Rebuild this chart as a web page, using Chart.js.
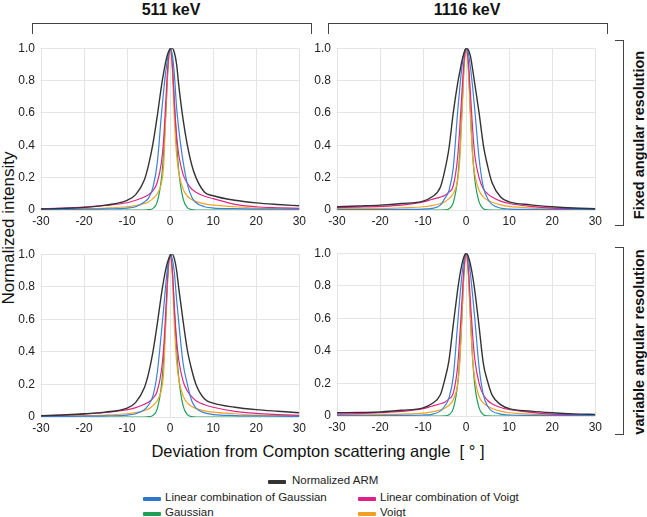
<!DOCTYPE html>
<html>
<head>
<meta charset="utf-8">
<script src="https://cdn.jsdelivr.net/npm/chart.js@4"></script>
<style>
  body { margin: 0; background: #fff; font-family: "Liberation Sans", Arial, sans-serif; }
  #wrap { position: relative; width: 647px; height: 517px; overflow: hidden; }
  canvas { position: absolute; }
  .t { position: absolute; white-space: nowrap; color: #111; }
  .ttl { font-weight: bold; font-size: 16px; transform: translateX(-50%); }
  .rot { font-weight: bold; font-size: 14.5px; transform: translate(-50%, -50%) rotate(-90deg); }
  .leg { font-size: 11.5px; color: #222; }
  .sw { position: absolute; width: 18px; height: 4px; border-radius: 1px; }
  .br { position: absolute; border-color: #444; border-style: solid; border-width: 0; }
</style>
</head>
<body>
<div id="wrap">
  <div class="t ttl" style="left:171px; top:1px;">511 keV</div>
  <div class="t ttl" style="left:467px; top:1px;">1116 keV</div>
  <div class="br" style="left:32px; top:23px; width:278px; height:10px; border-width:1.5px 1.5px 0 1.5px;"></div>
  <div class="br" style="left:328px; top:23px; width:278px; height:10px; border-width:1.5px 1.5px 0 1.5px;"></div>
  <div class="br" style="left:615px; top:40px; width:8px; height:184px; border-width:1.5px 1.5px 1.5px 0;"></div>
  <div class="br" style="left:615px; top:247px; width:8px; height:186px; border-width:1.5px 1.5px 1.5px 0;"></div>
  <div class="t rot" style="left:639px; top:135px;">Fixed angular resolution</div>
  <div class="t rot" style="left:639px; top:342px;">variable angular resolution</div>
  <div class="t" style="left:9px; top:228px; font-size:17px; transform: translate(-50%, -50%) rotate(-90deg);">Normalized intensity</div>
  <div class="t" style="left:318px; top:442px; font-size:16.5px; transform: translateX(-50%);">Deviation from Compton scattering angle &nbsp;[ ° ]</div>

  <canvas id="tl" width="310" height="195" style="left:0px; top:35px;"></canvas>
  <canvas id="tr" width="310" height="195" style="left:296px; top:35px;"></canvas>
  <canvas id="bl" width="310" height="196" style="left:0px; top:241px;"></canvas>
  <canvas id="br" width="310" height="196" style="left:296px; top:240px;"></canvas>

  <div class="sw" style="left:268px; top:480px; background:#333;"></div>
  <div class="t leg" style="left:292px; top:474px;">Normalized ARM</div>
  <div class="sw" style="left:143px; top:497px; background:#2f78cf;"></div>
  <div class="t leg" style="left:165px; top:491px;">Linear combination of Gaussian</div>
  <div class="sw" style="left:358px; top:497px; background:#e0208a;"></div>
  <div class="t leg" style="left:380px; top:491px;">Linear combination of Voigt</div>
  <div class="sw" style="left:143px; top:512px; background:#1f9e55;"></div>
  <div class="t leg" style="left:165px; top:506px;">Gaussian</div>
  <div class="sw" style="left:358px; top:512px; background:#f0a020;"></div>
  <div class="t leg" style="left:380px; top:506px;">Voigt</div>
</div>
<script>
// deviation angle (deg) sampled in every panel
const xs = [-30,-25,-20,-15,-10,-8,-6,-5,-4,-3,-2,-1.5,-1,-0.5,0,0.5,1,1.5,2,3,4,5,6,8,10,15,20,25,30];
const xTicks = [-30,-20,-10,0,10,20,30];
const yTicks = [0,0.2,0.4,0.6,0.8,1.0];

// 511 keV, fixed angular resolution
const tlArm   = [0.006,0.01,0.016,0.03,0.06,0.095,0.185,0.28,0.41,0.58,0.77,0.85,0.92,0.97,0.995,1.0,0.97,0.9,0.77,0.56,0.4,0.28,0.2,0.11,0.088,0.06,0.044,0.034,0.026];
const tlLinG  = [0.003,0.004,0.005,0.007,0.012,0.02,0.05,0.075,0.14,0.29,0.6,0.74,0.86,0.95,1.0,0.96,0.83,0.63,0.5,0.3,0.16,0.08,0.045,0.02,0.012,0.008,0.006,0.005,0.004];
const tlLinV  = [0.008,0.012,0.018,0.028,0.045,0.06,0.08,0.095,0.12,0.17,0.3,0.44,0.68,0.9,1.0,0.9,0.65,0.46,0.34,0.22,0.165,0.13,0.11,0.085,0.07,0.035,0.02,0.014,0.01];
const tlGauss = [0,0,0,0,0,0,0,0.002,0.01,0.05,0.2,0.36,0.6,0.88,1.0,0.9,0.65,0.42,0.24,0.07,0.015,0.003,0,0,0,0,0,0,0];
const tlVoigt = [0.004,0.005,0.008,0.012,0.02,0.027,0.04,0.05,0.07,0.1,0.17,0.28,0.6,0.88,1.0,0.87,0.55,0.34,0.23,0.13,0.085,0.065,0.052,0.038,0.03,0.02,0.012,0.01,0.008];

// 1116 keV, fixed angular resolution
const trArm   = [0.02,0.025,0.03,0.04,0.055,0.08,0.14,0.24,0.38,0.6,0.78,0.85,0.92,0.97,1.0,0.99,0.95,0.87,0.78,0.6,0.4,0.27,0.17,0.08,0.05,0.032,0.02,0.012,0.008];
const trLinG  = [0.002,0.002,0.003,0.004,0.006,0.01,0.03,0.07,0.12,0.26,0.6,0.75,0.88,0.97,1.0,0.97,0.88,0.76,0.62,0.32,0.14,0.07,0.035,0.012,0.006,0.004,0.003,0.003,0.002];
const trLinV  = [0.015,0.018,0.022,0.03,0.05,0.065,0.08,0.09,0.11,0.15,0.32,0.5,0.72,0.92,1.0,0.92,0.72,0.5,0.34,0.2,0.13,0.1,0.08,0.055,0.04,0.022,0.012,0.008,0.005];
const trGauss = [0,0,0,0,0,0,0,0.001,0.008,0.045,0.19,0.35,0.6,0.88,1.0,0.88,0.6,0.35,0.19,0.05,0.008,0.001,0,0,0,0,0,0,0];
const trVoigt = [0.008,0.009,0.01,0.014,0.02,0.027,0.04,0.05,0.07,0.1,0.18,0.3,0.58,0.88,1.0,0.88,0.58,0.33,0.22,0.12,0.08,0.06,0.048,0.032,0.022,0.013,0.01,0.006,0.004];

// 511 keV, variable angular resolution
const blArm   = [0.008,0.012,0.02,0.03,0.055,0.09,0.18,0.27,0.4,0.57,0.76,0.84,0.91,0.96,0.99,1.0,0.97,0.9,0.79,0.59,0.41,0.29,0.2,0.11,0.085,0.06,0.045,0.035,0.026];
const blLinG  = [0.003,0.004,0.005,0.007,0.012,0.02,0.045,0.075,0.13,0.27,0.53,0.67,0.82,0.94,1.0,0.97,0.88,0.72,0.58,0.33,0.2,0.1,0.055,0.025,0.015,0.009,0.007,0.005,0.004];
const blLinV  = [0.008,0.012,0.018,0.028,0.045,0.058,0.078,0.092,0.115,0.16,0.29,0.43,0.66,0.9,1.0,0.9,0.66,0.47,0.35,0.22,0.16,0.125,0.1,0.075,0.06,0.035,0.022,0.015,0.01];
const blGauss = [0,0,0,0,0,0,0,0.002,0.01,0.05,0.2,0.36,0.6,0.88,1.0,0.9,0.65,0.42,0.24,0.07,0.015,0.003,0,0,0,0,0,0,0];
const blVoigt = [0.004,0.005,0.008,0.012,0.02,0.027,0.04,0.05,0.07,0.1,0.17,0.28,0.6,0.88,1.0,0.87,0.55,0.34,0.23,0.13,0.085,0.065,0.052,0.038,0.03,0.02,0.012,0.01,0.008];

// 1116 keV, variable angular resolution
const brArm   = [0.02,0.022,0.025,0.035,0.05,0.075,0.13,0.22,0.34,0.56,0.77,0.86,0.93,0.98,1.0,0.98,0.93,0.86,0.77,0.55,0.32,0.21,0.13,0.07,0.045,0.03,0.02,0.013,0.01];
const brLinG  = [0.002,0.002,0.003,0.004,0.006,0.01,0.03,0.06,0.11,0.24,0.56,0.72,0.86,0.96,1.0,0.97,0.87,0.74,0.6,0.3,0.13,0.06,0.03,0.012,0.006,0.004,0.003,0.003,0.002];
const brLinV  = [0.012,0.015,0.02,0.028,0.045,0.06,0.075,0.085,0.105,0.14,0.3,0.48,0.7,0.91,1.0,0.91,0.7,0.5,0.35,0.2,0.13,0.095,0.075,0.052,0.04,0.022,0.012,0.008,0.005];
const brGauss = [0,0,0,0,0,0,0,0.001,0.008,0.045,0.19,0.35,0.6,0.88,1.0,0.88,0.6,0.35,0.19,0.05,0.008,0.001,0,0,0,0,0,0,0];
const brVoigt = [0.006,0.007,0.009,0.012,0.018,0.025,0.038,0.048,0.066,0.1,0.19,0.32,0.6,0.89,1.0,0.88,0.6,0.35,0.23,0.12,0.08,0.06,0.046,0.03,0.02,0.012,0.008,0.006,0.004];

const colors = { arm: '#333333', linG: '#3a82d6', linV: '#e02585', gauss: '#1fa05a', voigt: '#f2a324' };
const gridColor = '#e4e4e4';

function series(label, ys, color, w) {
  return {
    label: label,
    data: xs.map((x, i) => ({ x: x, y: ys[i] })),
    borderColor: color,
    borderWidth: w,
    pointRadius: 0,
    fill: false,
    cubicInterpolationMode: 'monotone'
  };
}

function panel(id, arm, linG, linV, gauss, voigt) {
  new Chart(document.getElementById(id), {
    type: 'line',
    data: {
      datasets: [
        series('Normalized ARM', arm, colors.arm, 1.4),
        series('Linear combination of Gaussian', linG, colors.linG, 1.2),
        series('Linear combination of Voigt', linV, colors.linV, 1.2),
        series('Voigt', voigt, colors.voigt, 1.2),
        series('Gaussian', gauss, colors.gauss, 1.2)
      ]
    },
    options: {
      responsive: false,
      animation: false,
      layout: { padding: { top: 8, right: 8, left: 0, bottom: 0 } },
      plugins: { legend: { display: false }, tooltip: { enabled: false } },
      scales: {
        x: {
          type: 'linear', min: -30, max: 30,
          afterBuildTicks: s => { s.ticks = xTicks.map(v => ({ value: v })); },
          afterFit: s => { s.height = 20; },
          grid: { color: gridColor, drawTicks: false },
          border: { display: false },
          ticks: { padding: 4, color: '#222', font: { size: 12, family: 'Liberation Sans' }, maxRotation: 0 }
        },
        y: {
          min: 0, max: 1,
          afterBuildTicks: s => { s.ticks = yTicks.map(v => ({ value: v })); },
          afterFit: s => { s.width = 41; },
          grid: { color: gridColor, drawTicks: false },
          border: { display: false },
          ticks: {
            padding: 6, color: '#222', font: { size: 12, family: 'Liberation Sans' },
            callback: v => v === 0 ? '0' : v.toFixed(1)
          }
        }
      }
    }
  });
}

panel('tl', tlArm, tlLinG, tlLinV, tlGauss, tlVoigt);
panel('tr', trArm, trLinG, trLinV, trGauss, trVoigt);
panel('bl', blArm, blLinG, blLinV, blGauss, blVoigt);
panel('br', brArm, brLinG, brLinV, brGauss, brVoigt);
</script>
</body>
</html>
